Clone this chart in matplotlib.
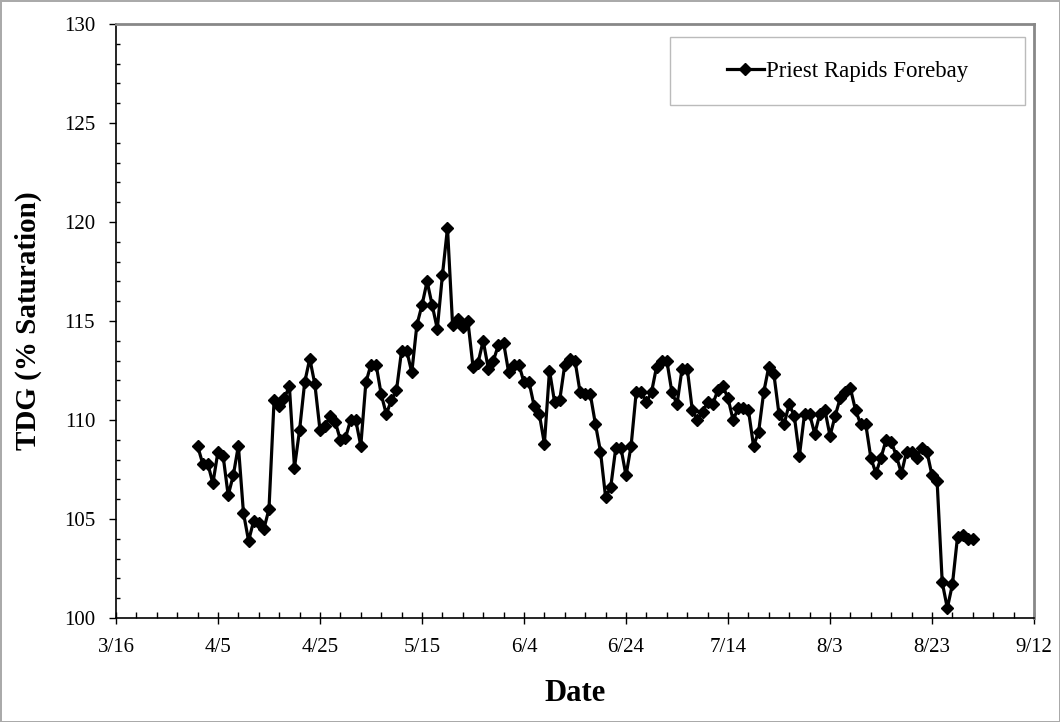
import numpy as np
import pandas as pd
import matplotlib
matplotlib.use('Agg')
import matplotlib.pyplot as plt
import matplotlib.dates as mdates
from matplotlib.patches import Rectangle

# daily TDG at Priest Rapids forebay, 4/1 .. 8/31
start_date = '2011-04-01'
tdg = [108.7, 107.8, 107.8, 106.8, 108.4, 108.2, 106.2, 107.2, 108.7, 105.3,
       103.9, 104.9, 104.8, 104.5, 105.5, 111.0, 110.7, 111.1, 111.7, 107.6,
       109.5, 111.9, 113.1, 111.8, 109.5, 109.7, 110.2, 109.9, 109.0, 109.1,
       110.0, 110.0, 108.7, 111.9, 112.8, 112.8, 111.3, 110.3, 111.0, 111.5,
       113.5, 113.5, 112.4, 114.8, 115.8, 117.0, 115.8, 114.6, 117.3, 119.7,
       114.8, 115.1, 114.7, 115.0, 112.7, 112.9, 114.0, 112.6, 113.0, 113.8,
       113.9, 112.4, 112.8, 112.8, 111.9, 111.9, 110.7, 110.3, 108.8, 112.5,
       110.9, 111.0, 112.8, 113.1, 113.0, 111.4, 111.3, 111.3, 109.8, 108.4,
       106.1, 106.6, 108.6, 108.6, 107.2, 108.7, 111.4, 111.4, 110.9, 111.4,
       112.7, 113.0, 113.0, 111.4, 110.8, 112.6, 112.6, 110.5, 110.0, 110.4,
       110.9, 110.8, 111.5, 111.7, 111.1, 110.0, 110.6, 110.6, 110.5, 108.7,
       109.4, 111.4, 112.7, 112.3, 110.3, 109.8, 110.8, 110.2, 108.2, 110.3,
       110.3, 109.3, 110.3, 110.5, 109.2, 110.2, 111.1, 111.4, 111.6, 110.5,
       109.8, 109.8, 108.1, 107.3, 108.1, 109.0, 108.9, 108.2, 107.3, 108.4,
       108.4, 108.1, 108.6, 108.4, 107.2, 106.9, 101.8, 100.5, 101.7, 104.1,
       104.2, 104.0, 104.0]
series_name = 'Priest Rapids Forebay'
x_label = 'Date'
y_label = 'TDG (% Saturation)'

dates = pd.date_range(start_date, periods=len(tdg), freq='D')

plt.rcParams['font.family'] = ['Liberation Serif', 'DejaVu Serif']

fig = plt.figure(figsize=(10.6, 7.22), dpi=100)
fig.patch.set_edgecolor('#aaaaaa')
fig.patch.set_linewidth(1)
ax = fig.add_axes([0.1094, 0.144, 0.8661, 0.8228])

ax.plot(dates, tdg, color='black', lw=2.3, marker='D', ms=6.2,
        label=series_name)

ax.set_xlim(pd.Timestamp('2011-03-16'), pd.Timestamp('2011-09-12'))
ax.set_ylim(100, 130)
ax.set_xticks(pd.date_range('2011-03-16', '2011-09-12', freq='20D'))
ax.set_xticks(pd.date_range('2011-03-16', '2011-09-12', freq='4D'), minor=True)
ax.xaxis.set_major_formatter(mdates.DateFormatter('%-m/%-d'))
ax.set_yticks(np.arange(100, 131, 5))
ax.set_yticks(np.arange(100, 131, 1), minor=True)

ax.tick_params(axis='x', which='major', direction='inout', length=9, width=1,
               labelsize=15, pad=10)
ax.tick_params(axis='x', which='minor', direction='in', length=4, width=1)
ax.tick_params(axis='y', which='major', direction='out', length=5, width=1,
               labelsize=15, pad=10)
ax.tick_params(axis='y', which='minor', direction='in', length=3, width=1)

for s in ['top', 'right']:
    ax.spines[s].set_color('#888888')
    ax.spines[s].set_linewidth(2)
for s in ['left', 'bottom']:
    ax.spines[s].set_color('black')
    ax.spines[s].set_linewidth(1.2)

ax.set_xlabel(x_label, fontsize=22, fontweight='bold', labelpad=16)
ax.set_ylabel(y_label, fontsize=21, fontweight='bold', labelpad=16)

# legend frame is wider than its content in the original
ax.add_patch(Rectangle((0.6035, 0.8636), 0.3865, 0.1144, transform=ax.transAxes,
                       facecolor='white', edgecolor='#bbbbbb', lw=1, zorder=3))
leg = ax.legend(loc='center', bbox_to_anchor=(0.7968, 0.9208), frameon=False,
                fontsize=16.5, handlelength=1.6, handletextpad=0.1)
leg.set_zorder(4)

fig.savefig('out.png', dpi=100)
